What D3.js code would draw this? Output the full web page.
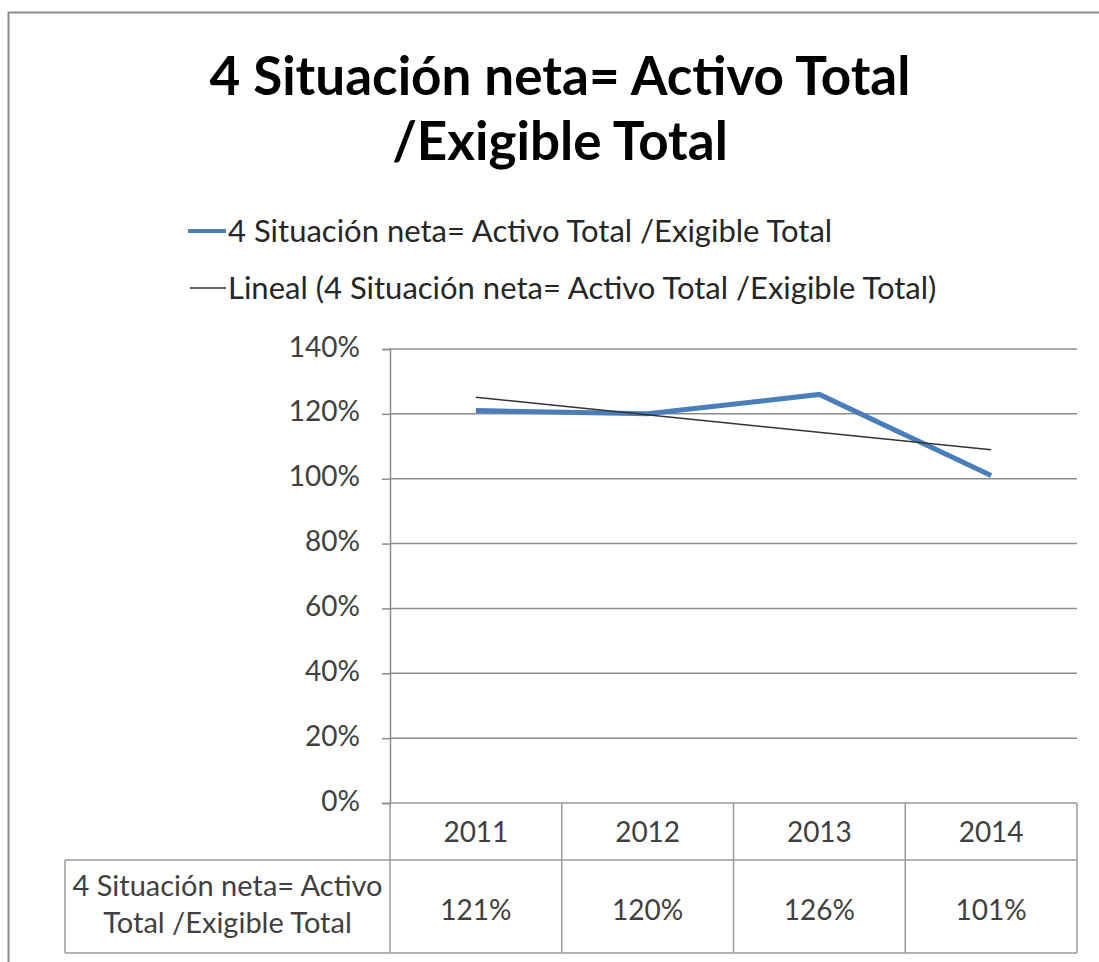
<!DOCTYPE html>
<html>
<head>
  <meta charset="UTF-8">
  <style>
    body { margin: 0; background: #fff; }
    svg { display: block; }
    text { font-family: Lato, "Open Sans", sans-serif; }
  </style>
</head>
<body>
<svg></svg>
<script src="https://d3js.org/d3.v7.min.js"></script>
<script>
// chart data
const titleLines = ["4 Situación neta= Activo Total", "/Exigible Total"];
const seriesName = "4 Situación neta= Activo Total /Exigible Total";
const trendName = "Lineal (4 Situación neta= Activo Total /Exigible Total)";
const rowHeader = ["4 Situación neta= Activo", "Total /Exigible Total"];
const years = ["2011", "2012", "2013", "2014"];
const values = [1.21, 1.20, 1.26, 1.01];
const yTicks = [0, 0.2, 0.4, 0.6, 0.8, 1.0, 1.2, 1.4];

let width = 1099, height = 962;
let svg = d3.select("svg").attr("width", width).attr("height", height);

let plot = { left: 390, right: 1077, top: 349, bottom: 803 };
let rowCat = 860, rowEnd = 953, headLeft = 65;

let x = d3.scaleBand().domain(years).range([plot.left, plot.right]);
let y = d3.scaleLinear().domain([0, 1.4]).range([plot.bottom, plot.top]);
let pct = d3.format(".0%");

// outer chart border
svg.append("rect")
  .attr("x", 8.5).attr("y", 12.5)
  .attr("width", width + 20).attr("height", height + 20)
  .attr("fill", "none").attr("stroke", "#8c8c8c").attr("stroke-width", 2);

// title
svg.append("g").selectAll("text")
  .data(titleLines).enter().append("text")
  .attr("x", 560).attr("y", (d, i) => 95 + i * 65)
  .attr("text-anchor", "middle")
  .style("font-size", "53px").style("font-weight", "bold")
  .attr("fill", "#000")
  .text(d => d);

// legend
let legend = svg.append("g");
legend.append("line").attr("x1", 188).attr("x2", 226).attr("y1", 231).attr("y2", 231)
  .attr("stroke", "#4a7ebb").attr("stroke-width", 4);
legend.append("text").attr("x", 228).attr("y", 242).style("font-size", "31px")
  .attr("fill", "#262626").text(seriesName);
legend.append("line").attr("x1", 190).attr("x2", 226).attr("y1", 288).attr("y2", 288)
  .attr("stroke", "#333").attr("stroke-width", 1.5);
legend.append("text").attr("x", 228).attr("y", 299).style("font-size", "31px")
  .attr("fill", "#262626").text(trendName);

// gridlines
svg.append("g").selectAll("line")
  .data(yTicks.slice(1)).enter().append("line")
  .attr("x1", plot.left).attr("x2", plot.right)
  .attr("y1", d => y(d)).attr("y2", d => y(d))
  .attr("stroke", "#8c8c8c").attr("stroke-width", 1.5);

// y axis
let yAxis = svg.append("g")
  .attr("transform", `translate(${plot.left},0)`)
  .call(d3.axisLeft(y).tickValues(yTicks).tickFormat(pct).tickSize(8).tickPadding(22));
yAxis.select(".domain").attr("stroke", "#8c8c8c").attr("stroke-width", 1.5);
yAxis.selectAll(".tick line").attr("stroke", "#8c8c8c").attr("stroke-width", 1.5);
yAxis.selectAll(".tick text").style("font-size", "28px").style("font-family", "Lato, sans-serif")
  .attr("fill", "#404040").attr("dy", "0.25em");

// data table
let table = svg.append("g").attr("stroke", "#9a9a9a").attr("stroke-width", 1.5).attr("fill", "none");
table.append("line").attr("x1", plot.left).attr("x2", plot.right).attr("y1", plot.bottom).attr("y2", plot.bottom);
table.append("line").attr("x1", headLeft).attr("x2", plot.right).attr("y1", rowCat).attr("y2", rowCat);
table.append("line").attr("x1", headLeft).attr("x2", plot.right).attr("y1", rowEnd).attr("y2", rowEnd);
table.append("line").attr("x1", headLeft).attr("x2", headLeft).attr("y1", rowCat).attr("y2", rowEnd);
table.selectAll(".vline")
  .data(years.concat(["end"])).enter().append("line")
  .attr("x1", (d, i) => i < years.length ? x(d) : plot.right)
  .attr("x2", (d, i) => i < years.length ? x(d) : plot.right)
  .attr("y1", plot.bottom)
  .attr("y2", rowEnd);

svg.append("g").selectAll("text")
  .data(years).enter().append("text")
  .attr("x", d => x(d) + x.bandwidth() / 2).attr("y", 842)
  .attr("text-anchor", "middle").style("font-size", "28px").attr("fill", "#404040")
  .text(d => d);

svg.append("g").selectAll("text")
  .data(values).enter().append("text")
  .attr("x", (d, i) => x(years[i]) + x.bandwidth() / 2).attr("y", 920)
  .attr("text-anchor", "middle").style("font-size", "28px").attr("fill", "#404040")
  .text(d => pct(d));

svg.append("g").selectAll("text")
  .data(rowHeader).enter().append("text")
  .attr("x", (headLeft + plot.left) / 2).attr("y", (d, i) => 896 + i * 37)
  .attr("text-anchor", "middle").style("font-size", "29px").attr("fill", "#404040")
  .text(d => d);

// series line
let cx = d => x(d) + x.bandwidth() / 2;
let line = d3.line().x(d => cx(d[0])).y(d => y(d[1]));
svg.append("path")
  .datum(years.map((d, i) => [d, values[i]]))
  .attr("d", line).attr("fill", "none")
  .attr("stroke", "#4a7ebb").attr("stroke-width", 5);

// linear trendline (least squares over category index, like Excel)
let n = values.length;
let xs = values.map((d, i) => i + 1);
let mx = d3.mean(xs), my = d3.mean(values);
let slope = d3.sum(xs, (d, i) => (d - mx) * (values[i] - my)) / d3.sum(xs, d => (d - mx) ** 2);
let icpt = my - slope * mx;
svg.append("path")
  .datum([[years[0], icpt + slope * 1], [years[n - 1], icpt + slope * n]])
  .attr("d", line).attr("fill", "none")
  .attr("stroke", "#333").attr("stroke-width", 1.5);
</script>
</body>
</html>
